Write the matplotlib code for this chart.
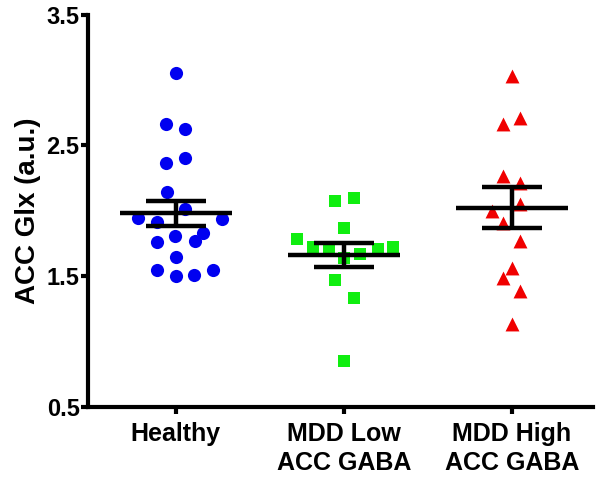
import numpy as np
import matplotlib
matplotlib.use("Agg")
import matplotlib.pyplot as plt

plt.rcParams['font.family'] = ['Liberation Sans', 'DejaVu Sans']
plt.rcParams['font.weight'] = 'bold'

groups = ['Healthy', 'MDD Low\nACC GABA', 'MDD High\nACC GABA']

# values, with the horizontal scatter offsets
healthy = [3.056, 2.665, 2.627, 2.367, 2.405, 2.147, 2.012, 1.946, 1.915, 1.938,
           1.831, 1.762, 1.808, 1.770, 1.647, 1.547, 1.501, 1.509, 1.547]
healthy_dx = [0, -0.06, 0.054, -0.06, 0.054, -0.056, 0.054, -0.226, -0.113, 0.274,
              0.161, -0.113, -0.006, 0.113, 0, -0.113, 0, 0.107, 0.22]

low = [2.076, 2.099, 1.869, 1.785, 1.724, 1.708, 1.639, 1.670, 1.708, 1.724,
       1.471, 1.333, 0.851]
low_dx = [-0.054, 0.06, 0, -0.28, -0.185, -0.09, 0, 0.095, 0.2, 0.29,
          -0.054, 0.06, 0]

high = [3.033, 2.665, 2.711, 2.267, 2.214, 1.999, 2.053, 1.907, 1.770, 1.563,
        1.486, 1.387, 1.134]
high_dx = [0, -0.054, 0.05, -0.054, 0.05, -0.12, 0.05, -0.054, 0.05, 0,
           -0.054, 0.05, 0]

means = [1.979, 1.662, 2.024]
sems = [0.099, 0.094, 0.16]

fig = plt.figure(figsize=(6.02, 4.8), dpi=100)
ax = fig.add_axes([0.146, 0.153, 0.839, 0.816])

ax.scatter(0 + np.array(healthy_dx), healthy, s=90, marker='o', color='#0000f0',
           linewidths=0, zorder=2)
ax.scatter(1 + np.array(low_dx), low, s=80, marker='s', color='#10ee10',
           linewidths=0, zorder=2)
ax.scatter(2 + np.array(high_dx), high, s=100, marker='^', color='#f00000',
           linewidths=0, zorder=2)

for i, (m, e) in enumerate(zip(means, sems)):
    ax.plot([i - 0.333, i + 0.333], [m, m], color='black', lw=3.2, zorder=3,
            solid_capstyle='butt')
    ax.errorbar(i, m, yerr=e, color='black', elinewidth=3.2, capsize=0, zorder=3)
    for y in (m - e, m + e):
        ax.plot([i - 0.18, i + 0.18], [y, y], color='black', lw=3.2, zorder=3,
                solid_capstyle='butt')

ax.set_xlim(-0.524, 2.482)
ax.set_ylim(0.5, 3.5)
ax.set_yticks([0.5, 1.5, 2.5, 3.5])
ax.set_yticklabels(['0.5', '1.5', '2.5', '3.5'])
ax.set_xticks([0, 1, 2])
ax.set_xticklabels(groups, fontsize=18, fontweight='bold', linespacing=1.25)
ax.tick_params(axis='y', labelsize=17, width=3, length=5, pad=1)
ax.tick_params(axis='x', width=3, length=5, pad=6)
ax.set_ylabel('ACC Glx (a.u.)', fontsize=20, fontweight='bold', labelpad=4)

for s in ['top', 'right']:
    ax.spines[s].set_visible(False)
for s in ['left', 'bottom']:
    ax.spines[s].set_linewidth(3)

fig.savefig('out.png', dpi=100)
